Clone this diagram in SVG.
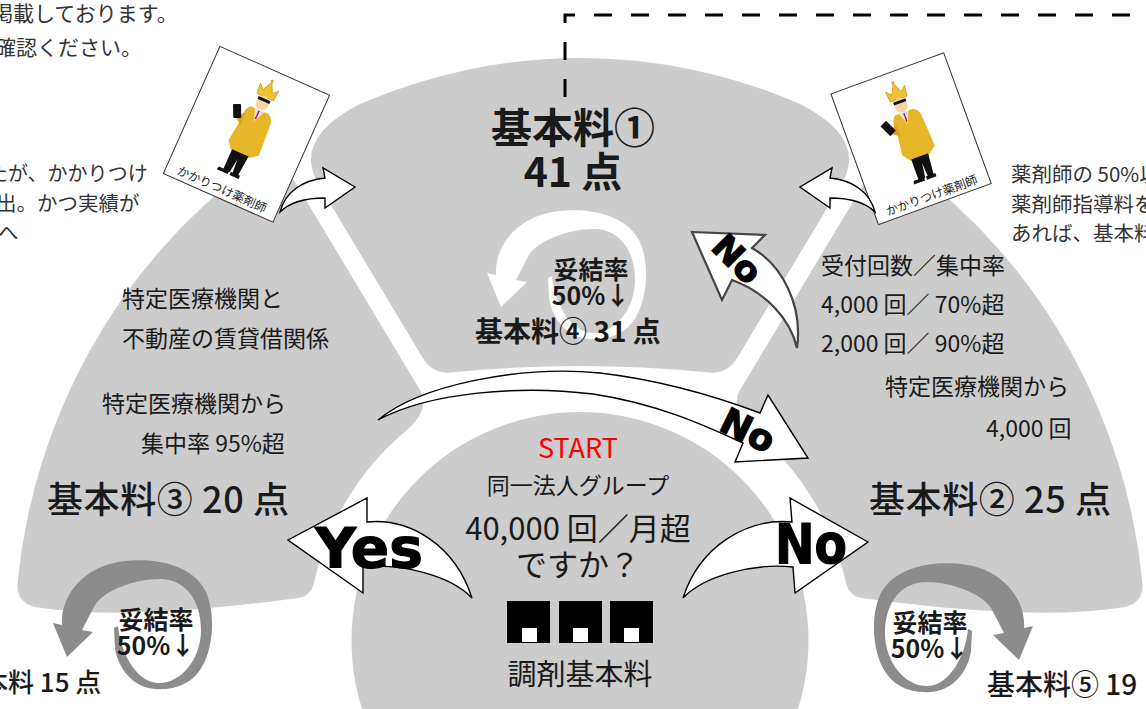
<svg xmlns="http://www.w3.org/2000/svg" xmlns:xlink="http://www.w3.org/1999/xlink" width="1146" height="709" viewBox="0 0 1146 709">
<style>
  .t { font-family: "Noto Sans CJK JP", "Noto Sans", sans-serif; fill: #1a1a1a; }
  .sm { font-size: 20.5px; fill: #333; }
  .md { font-size: 23px; }
  .b { font-weight: 700; }
  .big { font-size: 36px; font-weight: 500; letter-spacing: 0.6px; }
  .seg { fill: #cccccc; }
  .arr { fill: #fff; stroke: #000; stroke-width: 1.4; stroke-linejoin: miter; }
  .en { font-family: "DejaVu Sans", "Liberation Sans", sans-serif; font-weight: 700; fill: #000; stroke: #000; stroke-width: 1.2; }
  .card { fill: #fff; stroke: #333; stroke-width: 1; }
</style>
<defs>
  <!-- tapered spiral arrow: thin tail inside, thick head at upper left pointing down -->
  <path id="spiral" d="M62,625 C60,595 85,565 125,561 C150,558 190,562 205,590 C216,612 214,650 200,670 C188,687 170,690 155,689 C135,688 118,670 115,648 L114,628 L118,626 C120,650 135,682 158,683 C180,684 201,660 201,630 C201,600 185,579 160,579 C135,579 105,590 95,605 L82,630 L93,632 L67,657 L53,623 Z"/>
  <!-- pharmacist figure, card-local coordinates -->
  <g id="pharm">
    <path d="M53,28 L52,17 L57,22 L62,11 L67,22 L72,17 L71,28 Z" fill="#f0c232" stroke="#c9941a" stroke-width="0.7"/>
    <circle cx="62" cy="10.5" r="1.5" fill="#e0a82a"/>
    <ellipse cx="62" cy="34.5" rx="6.5" ry="7.5" fill="#f5d6a6"/>
    <path d="M55.5,29.5 h13 v3 h-13z" fill="#111"/>
    <path d="M57,42 L67,42 L62,52 Z" fill="#cfe3f2"/>
    <path d="M62,43 L62,52" stroke="#c8102e" stroke-width="1.4"/>
    <path d="M53,42 L57,42 L62,54 L67,42 L72,42 Q78,45 78,52 L80,84 L72,90 L52,90 L46,82 L49,58 Q47,46 53,42 Z" fill="#e7b72a"/>
    <path d="M51,49 L43,58 L51,64 Z" fill="#d9a51f"/>
    <rect x="38" y="45" width="8" height="14" rx="1" transform="rotate(-25 42 52)" fill="#111"/>
    <path d="M53,89 L71,89 L69,111 L63,111 L62,96 L60,111 L53,111 Z" fill="#111"/>
    <path d="M48,110 h11 v3.5 h-12z M61,110 h10 v3.5 h-10z" fill="#111"/>
  </g>
</defs>

<rect width="1146" height="709" fill="#fff"/>

<!-- side notes, partly outside the page -->
<g id="notes-left" class="t sm">
  <text x="-8" y="21" font-size="21">掲載しております。</text>
  <text x="-5" y="55" font-size="21">確認ください。</text>
  <text x="-12" y="181" font-size="20">たが、かかりつけ</text>
  <text x="-4" y="211">出。かつ実績が</text>
  <text x="-2" y="240">へ</text>
</g>
<g id="notes-right" class="t sm">
  <text x="1011" y="182">薬剤師の 50%以</text>
  <text x="1011" y="212">薬剤師指導料を</text>
  <text x="1011" y="241">あれば、基本料</text>
</g>

<!-- fan segments -->
<g id="seg-left">
  <path class="seg" d="M17.5,585 Q17,606 42,608 Q130,621 298,598 Q312,596 314.7,580 A272,272 0 0 1 401,435 Q432,411 420,390 L289,172 Q276,150 250,167.6 A565,582 0 0 0 17.5,585 Z"/>
  <text class="t md" x="122" y="307">特定医療機関と</text>
  <text class="t md" x="122" y="347">不動産の賃貸借関係</text>
  <text class="t md" x="102" y="412">特定医療機関から</text>
  <text class="t md" x="141" y="452">集中率 95%超</text>
  <text class="t big" x="47" y="513">基本料③ 20 点</text>
</g>
<g id="seg-top">
  <path class="seg" d="M319,185 Q291,139 360,104 A565,582 0 0 1 800,104 Q869,139 841,185 L737.8,357 Q726.4,376 705,372 Q580,360 455,372 Q433.6,376 422.2,357 Z"/>
  <use href="#spiral" transform="translate(434,-350)" fill="#fff"/>
  <text class="t b" x="573" y="143" font-size="41" text-anchor="middle">基本料①</text>
  <text class="t b" x="573" y="187" font-size="41" text-anchor="middle">41 点</text>
  <text class="t b" x="591" y="279" font-size="25" text-anchor="middle">妥結率</text>
  <text class="t b" x="591" y="305" font-size="25" text-anchor="middle">50%↓</text>
  <text class="t b" x="568" y="342" font-size="28" text-anchor="middle">基本料④ 31 点</text>
</g>
<g id="seg-right">
  <path class="seg" d="M1142.5,585 Q1143,606 1118,608 Q1030,621 862,598 Q848,596 845.3,580 A272,272 0 0 0 759,435 Q728,411 740,390 L871,172 Q884,150 910,167.6 A565,582 0 0 1 1142.5,585 Z"/>
  <text class="t md" x="821" y="274">受付回数／集中率</text>
  <text class="t md" x="821" y="313">4,000 回／ 70%超</text>
  <text class="t md" x="821" y="352">2,000 回／ 90%超</text>
  <text class="t md" x="885" y="395">特定医療機関から</text>
  <text class="t md" x="986" y="437">4,000 回</text>
  <text class="t big" x="869" y="513">基本料② 25 点</text>
</g>

<!-- start node -->
<g id="start">
  <circle class="seg" cx="580" cy="640.5" r="228.5"/>
  <text class="t" x="578" y="458" font-size="27" text-anchor="middle" style="fill:#ff0000">START</text>
  <text class="t md" x="578" y="494" text-anchor="middle">同一法人グループ</text>
  <text class="t" x="578" y="540" font-size="31" text-anchor="middle">40,000 回／月超</text>
  <text class="t" x="578" y="576" font-size="31" text-anchor="middle">ですか？</text>
  <g fill="#000">
    <rect x="507" y="601" width="43" height="42"/>
    <rect x="559" y="601" width="43" height="42"/>
    <rect x="610" y="601" width="43" height="42"/>
  </g>
  <g fill="#fff">
    <rect x="522" y="628" width="15" height="14"/>
    <rect x="573" y="628" width="15" height="14"/>
    <rect x="624" y="628" width="15" height="14"/>
  </g>
  <text class="t" x="580" y="685" font-size="29" text-anchor="middle">調剤基本料</text>
</g>

<!-- reduced rates below the side segments -->
<g id="rate-left">
  <use href="#spiral" fill="#8c8c8c"/>
  <text class="t b" x="156" y="629" font-size="25" text-anchor="middle">妥結率</text>
  <text class="t b" x="156" y="655" font-size="25" text-anchor="middle">50%↓</text>
  <text class="t" x="-44" y="692" font-size="26" font-weight="500">基本料 15 点</text>
</g>
<g id="rate-right">
  <use href="#spiral" fill="#8c8c8c" transform="translate(1086,3) scale(-1,1)"/>
  <text class="t b" x="930" y="632" font-size="25" text-anchor="middle">妥結率</text>
  <text class="t b" x="930" y="658" font-size="25" text-anchor="middle">50%↓</text>
  <text class="t" x="987" y="695" font-size="28" font-weight="500">基本料⑤ 19</text>
</g>

<!-- pharmacist cards -->
<g id="card-left" transform="translate(246.25,134.75) rotate(24) translate(-60,-70)">
  <rect class="card" width="120" height="139"/>
  <use href="#pharm"/>
  <text class="t" x="60" y="134" font-size="12" text-anchor="middle">かかりつけ薬剤師</text>
</g>
<g id="card-right" transform="translate(911.25,139.25) rotate(-20) translate(-60,-70)">
  <rect class="card" width="120" height="139"/>
  <use href="#pharm"/>
  <text class="t" x="60" y="134" font-size="12" text-anchor="middle">かかりつけ薬剤師</text>
</g>

<!-- connectors -->
<g id="connectors">
  <path class="arr" d="M280,212 C285,192 303,180 325,178 L323,168 L355,187 L325,208 L325,198 C305,198 290,202 280,212 Z"/>
  <path class="arr" d="M875,212 C870,192 852,180 830,178 L832,168 L800,187 L830,208 L830,198 C850,198 865,202 875,212 Z"/>

  <path class="arr" d="M288,540 L367,498 L367,522 C410,518 455,545 472,598 C450,575 400,563 363,567 L363,593 Z"/>
  <text class="en" x="369" y="567" font-size="55" text-anchor="middle" textLength="108" lengthAdjust="spacingAndGlyphs">Yes</text>

  <path class="arr" d="M868,542 L790,498 L792,522 C748,518 700,545 683,598 C705,575 755,563 793,567 L795,593 Z"/>
  <text class="en" x="811" y="563" font-size="55" text-anchor="middle" textLength="72" lengthAdjust="spacingAndGlyphs">No</text>

  <path class="arr" d="M378,420 C420,385 520,365 600,373 C660,380 720,398 760,413 L768,395 L808,458 L735,462 L743,443 C710,428 660,404 593,394 C520,385 430,392 378,420 Z"/>
  <text class="en" transform="translate(748,430) rotate(26)" x="0" y="13" font-size="36" text-anchor="middle" textLength="56" lengthAdjust="spacingAndGlyphs">No</text>

  <path class="arr" style="stroke:#444;stroke-width:2.2" d="M692,232 L765,235 L752,248 C782,265 803,305 797,348 C790,318 765,292 732,280 L722,300 Z"/>
  <text class="en" transform="translate(737,259) rotate(45)" x="0" y="12" font-size="34" text-anchor="middle" textLength="54" lengthAdjust="spacingAndGlyphs">No</text>

  <path d="M565,97 L565,15 L1146,15" fill="none" stroke="#000" stroke-width="3" stroke-dasharray="18 19"/>
</g>
</svg>
